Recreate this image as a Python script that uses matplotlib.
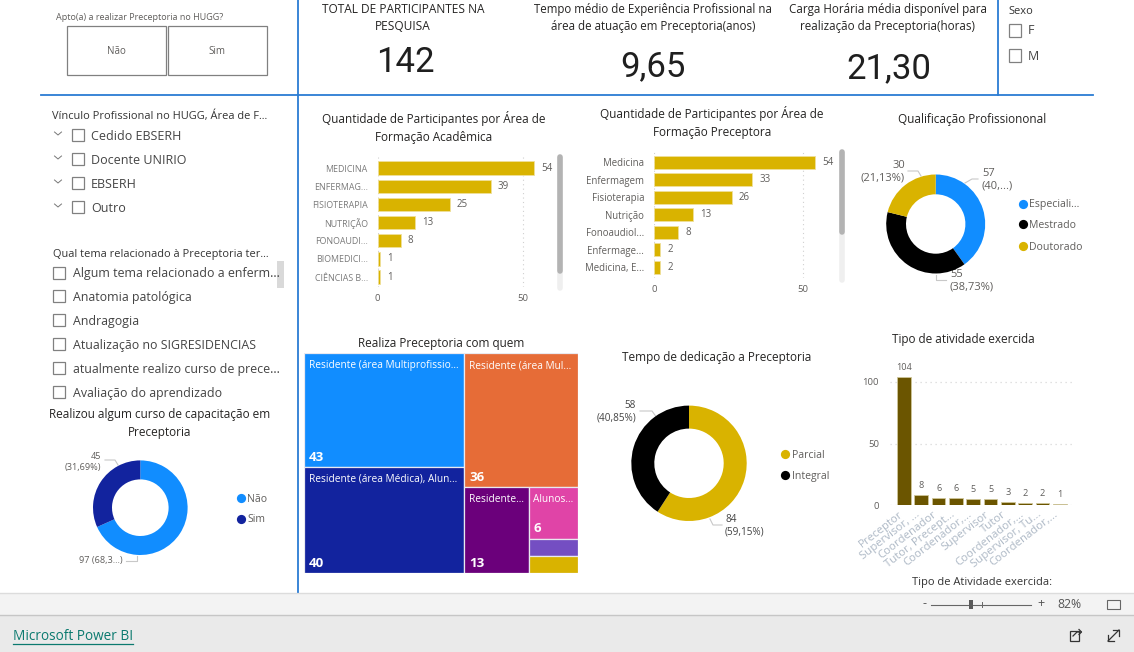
import matplotlib
matplotlib.use('Agg')
import matplotlib.pyplot as plt
from matplotlib.patches import Rectangle
from matplotlib.transforms import ScaledTranslation

plt.rcParams['font.family'] = ['Open Sans', 'DejaVu Sans']

W, H = 1134, 652

# Data
area_acad_labels = ['MEDICINA', 'ENFERMAG...', 'FISIOTERAPIA', 'NUTRIÇÃO', 'FONOAUDI...', 'BIOMEDICI...', 'CIÊNCIAS B...']
area_acad_values = [54, 39, 25, 13, 8, 1, 1]
area_prec_labels = ['Medicina', 'Enfermagem', 'Fisioterapia', 'Nutrição', 'Fonoaudiol...', 'Enfermage...', 'Medicina, E...']
area_prec_values = [54, 33, 26, 13, 8, 2, 2]
qualif_labels = ['Especiali...', 'Mestrado', 'Doutorado']
qualif_values = [57, 55, 30]
dedic_labels = ['Parcial', 'Integral']
dedic_values = [84, 58]
curso_labels = ['Não', 'Sim']
curso_values = [97, 45]
ativ_labels = ['Preceptor', 'Supervisor, ...', 'Coordenador', 'Tutor, Precept...', 'Coordenador,...',
               'Supervisor', 'Tutor', 'Coordenador,...', 'Supervisor, Tu...', 'Coordenador,...']
ativ_values = [104, 8, 6, 6, 5, 5, 3, 2, 2, 1]
tree_labels = ['Residente (área Multiprofissio...', 'Residente (área Médica), Alun...', 'Residente (área Mul...',
               'Residente...', 'Alunos...', '', '']
tree_values = [43, 40, 36, 13, 6, 2, 2]
tree_nest = [[0, 1], [2, [3, [4, 5, 6]]]]
kpi_total = '142'
kpi_exp = '9,65'
kpi_carga = '21,30'
vinculo_items = ['Cedido EBSERH', 'Docente UNIRIO', 'EBSERH', 'Outro']
tema_items = ['Algum tema relacionado a enferm...', 'Anatomia patológica', 'Andragogia',
              'Atualização no SIGRESIDENCIAS', 'atualmente realizo curso de prece...', 'Avaliação do aprendizado']

# Colours
BLUE = '#118DFF'
NAVY = '#12239E'
GOLD = '#D9B300'
ORANGE = '#E66C37'
PURPLE = '#6B007B'
PINK = '#E044A7'
VIOLET = '#744EC2'
OLIVE = '#6B5500'
LINE = '#2B7CD3'
TITLE = '#252423'
LABEL = '#605E5C'
tree_colors = [BLUE, NAVY, ORANGE, PURPLE, PINK, VIOLET, GOLD]

fig = plt.figure(figsize=(W / 100, H / 100), dpi=100, facecolor='white')


def ax_px(x0, y0, x1, y1):
    ax = fig.add_axes([x0 / W, 1 - y1 / H, (x1 - x0) / W, (y1 - y0) / H])
    ax.patch.set_visible(False)
    for s in ax.spines.values():
        s.set_visible(False)
    return ax


# overlay in pixel coordinates for the text and frames around the visuals
ov = fig.add_axes([0, 0, 1, 1])
ov.set_xlim(0, W)
ov.set_ylim(H, 0)
ov.axis('off')


def txt(x, y, s, size=9, color=TITLE, ha='left', va='center', **kw):
    ov.text(x, y + 1, s, fontsize=size, color=color, ha=ha, va=va, **kw)


def box(x0, y0, x1, y1, fc='none', ec='#808080', lw=0.9, z=2):
    ov.add_patch(Rectangle((x0, y0), x1 - x0, y1 - y0, facecolor=fc, edgecolor=ec, linewidth=lw, zorder=z))


def leader(xs, ys):
    ov.plot(xs, ys, color='#c8c8c8', lw=0.8)


# footer bands
box(0, 593, W, 615, fc='#f3f3f3', ec='none', z=0)
box(0, 615, W, H, fc='#eaeaea', ec='none', z=0)
ov.plot([0, W], [592.5, 592.5], color='#dcdcdc', lw=1)
ov.plot([0, W], [615, 615], color='#c6c6c6', lw=1)

# separators
ov.plot([41, 1093], [95, 95], color=LINE, lw=1.3)
ov.plot([298, 298], [0, 592], color=LINE, lw=1.3)
ov.plot([997.5, 997.5], [0, 95], color=LINE, lw=1.3)

# top left slicer
txt(56, 16, 'Apto(a) a realizar Preceptoria no HUGG?', size=6.5, color=LABEL)
box(66.5, 26, 165.5, 74.5)
box(167.5, 26, 266.5, 74.5)
txt(116, 50, 'Não', size=7, color=LABEL, ha='center')
txt(217, 50, 'Sim', size=7, color=LABEL, ha='center')

# KPI cards
txt(403, 17, 'TOTAL DE PARTICIPANTES NA\nPESQUISA', size=8.6, ha='center', linespacing=1.42)
txt(653, 17, 'Tempo médio de Experiência Profissional na\nárea de atuação em Preceptoria(anos)', size=8.3, ha='center', linespacing=1.45)
txt(888, 17, 'Carga Horária média disponível para\nrealização da Preceptoria(horas)', size=8.4, ha='center', linespacing=1.45)
for cx, cy, val in [(405, 61, kpi_total), (653, 66, kpi_exp), (889, 68, kpi_carga)]:
    txt(cx, cy, val, size=25, color='#1f1f1f', ha='center', family='Roboto')

# Sexo slicer
txt(1008, 10, 'Sexo', size=8, color='#333333')
for cy, s in [(30, 'F'), (55, 'M')]:
    box(1008.5, cy - 6, 1021, cy + 6.5)
    txt(1028, cy, s, size=9, color='#444444')

# left slicers
txt(52, 115, 'Vínculo Profissional no HUGG, Área de F...', size=7.9, color='#333333')
for i, s in enumerate(vinculo_items):
    cy = 135 + i * 24
    ov.plot([54.5, 58, 61.5], [cy - 3, cy, cy - 3], color='#777777', lw=0.7)
    box(72, cy - 6.5, 84, cy + 5.5)
    txt(91, cy, s, size=9, color='#444444')

txt(53, 253, 'Qual tema relacionado à Preceptoria ter...', size=7.9, color='#333333')
for i, s in enumerate(tema_items):
    cy = 273 + i * 23.9
    box(53, cy - 6.5, 65, cy + 5.5)
    txt(73, cy, s, size=8.9, color='#444444')
box(277, 261, 283.5, 288, fc='#d9d9d9', ec='none')

# Titles of the visuals
txt(434, 126.5, 'Quantidade de Participantes por Área de\nFormação Acadêmica', size=8.5, ha='center', linespacing=1.42)
txt(712, 121.5, 'Quantidade de Participantes por Área de\nFormação Preceptora', size=8.5, ha='center', linespacing=1.42)
txt(972, 118, 'Qualificação Profissiononal', size=8.5, ha='center')
txt(160, 422.5, 'Realizou algum curso de capacitação em\nPreceptoria', size=8.5, ha='center', linespacing=1.42)
txt(441, 342, 'Realiza Preceptoria com quem', size=8.5, ha='center')
txt(717, 357, 'Tempo de dedicação a Preceptoria', size=8.5, ha='center')
txt(963, 338, 'Tipo de atividade exercida', size=8.5, ha='center')


def hbars(rect, labels, values, xmax, ylim, tick_color, tick_size):
    ax = ax_px(*rect)
    y = list(range(len(values)))
    ax.barh(y, values, height=0.74, color=GOLD, edgecolor='#efe09a', linewidth=0.6, zorder=3)
    for yi, v in zip(y, values):
        ax.text(v + 2.4, yi, str(v), fontsize=7, color=LABEL, va='center', zorder=4)
    ax.set_xlim(0, xmax)
    ax.set_ylim(*ylim)
    ax.set_yticks(y, labels, fontsize=tick_size, color=tick_color)
    ax.set_xticks([0, 50], ['0', '50'], fontsize=6.8, color=LABEL)
    ax.tick_params(length=0)
    ax.tick_params(axis='y', pad=7)
    ax.tick_params(axis='x', pad=5)
    ax.grid(axis='x', color='#d0d0d0', ls=(0, (1, 3)), lw=0.8, zorder=0)
    return ax


hbars((377.5, 157, 555, 287), area_acad_labels, area_acad_values, 61.2, (6.55, -0.61), '#7b7b7b', 6.4)
hbars((654, 150, 836, 278), area_prec_labels, area_prec_values, 61, (6.6, -0.7), LABEL, 6.9)

# scrollbars of the bar charts
for x, y0, y1, y2 in [(560, 157, 271, 288), (842, 152, 232, 280)]:
    ov.plot([x, x], [y0, y2], color='#efefef', lw=4, solid_capstyle='round')
    ov.plot([x, x], [y0, y1], color='#b3b3b3', lw=4, solid_capstyle='round')


def donut(cx, cy, r, r_in, values, colors):
    ax = ax_px(cx - r, cy - r, cx + r, cy + r)
    ax.pie(values, colors=colors, radius=1, startangle=90, counterclock=False,
           wedgeprops=dict(width=1 - r_in / r, linewidth=0))
    ax.set_xlim(-1, 1)
    ax.set_ylim(-1, 1)
    return ax


donut(935.7, 224, 49.5, 29.7, qualif_values, [BLUE, '#000000', GOLD])
donut(689, 463.3, 57.7, 34.7, dedic_values, [GOLD, '#000000'])
donut(140.3, 507.7, 47.3, 28.3, curso_values, [BLUE, NAVY])

# donut legends
for y, c, s in zip([204, 224, 246], [BLUE, '#000000', GOLD], qualif_labels):
    ov.scatter([1023], [y], s=44, color=c, linewidths=0)
    txt(1029, y, s, size=7.6, color=LABEL)
for y, c, s in zip([454, 475], [GOLD, '#000000'], dedic_labels):
    ov.scatter([785], [y], s=44, color=c, linewidths=0)
    txt(792, y, s, size=7.6, color=LABEL)
for y, c, s in zip([498, 519], [BLUE, NAVY], curso_labels):
    ov.scatter([241], [y], s=44, color=c, linewidths=0)
    txt(247, y, s, size=7.6, color=LABEL)

# donut data labels
txt(905, 171, '30\n(21,13%)', size=8, color=LABEL, ha='right', linespacing=1.15)
leader([908, 918, 921], [171, 171, 176])
txt(982, 179, '57\n(40,...)', size=8, color=LABEL, linespacing=1.15)
leader([965, 972, 978], [183, 179, 179])
txt(950, 280, '55\n(38,73%)', size=8, color=LABEL, linespacing=1.15)
leader([936, 936, 946], [275, 280, 280])
txt(636, 411, '58\n(40,85%)', size=7.2, color='#444444', ha='right', linespacing=1.2)
leader([640, 652, 657], [411, 411, 418])
txt(725, 525, '84\n(59,15%)', size=7.2, color='#444444', linespacing=1.2)
leader([710, 713, 722], [519, 525, 525])
txt(101, 461, '45\n(31,69%)', size=6.6, color=LABEL, ha='right', linespacing=1.25)
leader([105, 115, 118], [460, 460, 465])
txt(123, 560, '97 (68,3...)', size=6.6, color=LABEL, ha='right')
leader([126, 137, 137], [561, 561, 556])

# treemap
tree_ax = ax_px(304, 353, 578, 573)
tree_ax.set_xlim(0, 1)
tree_ax.set_ylim(1, 0)
tree_ax.set_xticks([])
tree_ax.set_yticks([])


def node_sum(node):
    if isinstance(node, int):
        return tree_values[node]
    return sum(node_sum(n) for n in node)


def draw_node(node, x, y, w, h, vertical):
    if isinstance(node, int):
        tree_ax.add_patch(Rectangle((x, y), w, h, facecolor=tree_colors[node], edgecolor='#e9e9f0', linewidth=0.9))
        if tree_labels[node]:
            tree_ax.annotate(tree_labels[node], (x, y), xytext=(3.5, -9), textcoords='offset points',
                             fontsize=7.3, color='white', va='center')
            tree_ax.annotate(str(tree_values[node]), (x, y + h), xytext=(3.5, 7), textcoords='offset points',
                             fontsize=9.5, color='white', weight='bold', va='center')
        return
    total = node_sum(node)
    for child in node:
        frac = node_sum(child) / total
        if vertical:
            draw_node(child, x, y, w * frac, h, False)
            x += w * frac
        else:
            draw_node(child, x, y, w, h * frac, True)
            y += h * frac


draw_node(tree_nest, 0, 0, 1, 1, True)

# column chart
col_ax = ax_px(890, 370, 1074, 505.3)
x = list(range(len(ativ_values)))
col_ax.bar(x, ativ_values, width=0.79, color=OLIVE, edgecolor='#cfc69a', linewidth=0.6, zorder=3)
for xi, v in zip(x, ativ_values):
    col_ax.text(xi, v + 4, str(v), fontsize=6.6, color=LABEL, ha='center', va='bottom', zorder=4)
col_ax.set_xlim(-0.81, 9.82)
col_ax.set_ylim(0, 109.5)
col_ax.set_yticks([0, 50, 100], ['0', '50', '100'], fontsize=6.8, color=LABEL)
col_ax.set_xticks(x, ativ_labels, fontsize=8.2, color='#aeb9c6', rotation=38, ha='right', rotation_mode='anchor')
col_ax.tick_params(length=0)
col_ax.tick_params(axis='y', pad=8)
col_ax.tick_params(axis='x', pad=4)
shift = ScaledTranslation(-6 / 100, 2 / 100, fig.dpi_scale_trans)
for t in col_ax.get_xticklabels():
    t.set_transform(t.get_transform() + shift)
col_ax.grid(axis='y', color='#d8d8d8', ls=(0, (1, 3)), lw=0.9, zorder=0)

txt(982, 581, 'Tipo de Atividade exercida:', size=8, color='#333333', ha='center')

# footer controls
txt(924.5, 602.5, '-', size=9, color='#555555', ha='center')
ov.plot([931, 1031], [604.5, 604.5], color='#666666', lw=0.8)
ov.plot([981.5, 981.5], [602, 607], color='#666666', lw=0.7)
box(969, 600, 973, 609, fc='#5a5a5a', ec='none')
txt(1041, 602.5, '+', size=9, color='#555555', ha='center')
txt(1069, 603.5, '82%', size=8.8, color='#555555', ha='center')
box(1106.5, 600, 1119.5, 609, ec='#666666', lw=0.8)

txt(13, 636, 'Microsoft Power BI', size=9.8, color='#0B7A6F')
ov.plot([13, 133], [644, 644], color='#0B7A6F', lw=0.9)

# share and expand icons
box(1069.5, 631, 1079, 640.5, ec='#333333', lw=0.9)
ov.plot([1073, 1077, 1081], [636, 632, 632], color='#333333', lw=0.9)
ov.plot([1079, 1081.5, 1079], [629.5, 632, 634.5], color='#333333', lw=0.9)
ov.plot([1108, 1119], [641, 630], color='#333333', lw=0.9)
ov.plot([1113, 1119, 1119], [630, 630, 636], color='#333333', lw=0.9)
ov.plot([1108, 1108, 1114], [635, 641, 641], color='#333333', lw=0.9)

fig.savefig('out.png', dpi=100)
